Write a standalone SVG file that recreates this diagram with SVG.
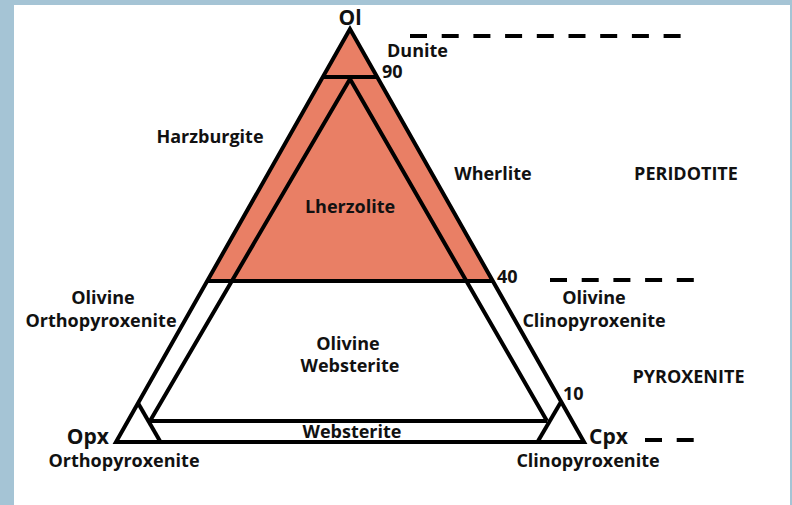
<svg xmlns="http://www.w3.org/2000/svg" width="792" height="505" viewBox="0 0 792 505">
  <style>
    .ln { fill: none; stroke: #000; stroke-width: 4; stroke-linejoin: miter; stroke-linecap: butt; }
    .dash { fill: none; stroke: #000; stroke-width: 4; stroke-dasharray: 17 14.7; }
    .t { font-family: "Open Sans", "Noto Sans", "Liberation Sans", sans-serif; font-weight: 700; font-size: 18px; fill: #111; }
    .big { font-size: 21px; }
    .c { text-anchor: middle; }
    .e { text-anchor: end; }
    .frame { fill: #a5c4d5; }
  </style>
  <rect width="792" height="505" fill="#fff"/>
  <g id="frame">
    <rect class="frame" x="0" y="0" width="14" height="505"/>
    <rect class="frame" x="0" y="0" width="792" height="5"/>
    <rect class="frame" x="790" y="0" width="2" height="505"/>
  </g>
  <g id="peridotite-field">
    <polygon points="350,29 207.2,281 492.8,281" fill="#e97f65"/>
  </g>
  <g id="connectors">
    <polygon class="ln" points="350,29 116,442 584,442"/>
    <line class="ln" x1="322.8" y1="77" x2="377.2" y2="77"/>
    <line class="ln" x1="207.2" y1="281" x2="492.8" y2="281"/>
    <polyline class="ln" points="150,421 350,79 547,421"/>
    <line class="ln" x1="150" y1="421" x2="547" y2="421"/>
    <line class="ln" x1="138" y1="403" x2="160.5" y2="442"/>
    <line class="ln" x1="561.5" y1="401" x2="537.5" y2="442"/>
    <line class="dash" x1="410" y1="36" x2="681" y2="36"/>
    <line class="dash" x1="550" y1="280" x2="694" y2="280"/>
    <line class="dash" x1="645" y1="440" x2="694" y2="440"/>
  </g>
  <g id="apex-ol"><text class="t big c" x="350" y="25">Ol</text></g>
  <g id="dunite"><text class="t c" x="417.5" y="57">Dunite</text></g>
  <g id="mark-90"><text class="t" x="382" y="78">90</text></g>
  <g id="harzburgite"><text class="t c" x="210" y="143">Harzburgite</text></g>
  <g id="wherlite"><text class="t c" x="493" y="180">Wherlite</text></g>
  <g id="peridotite"><text class="t c" x="686" y="180">PERIDOTITE</text></g>
  <g id="lherzolite"><text class="t c" x="350" y="213">Lherzolite</text></g>
  <g id="mark-40"><text class="t" x="497" y="283">40</text></g>
  <g id="olivine-orthopyroxenite">
    <text class="t c" x="103" y="304">Olivine</text>
    <text class="t c" x="101" y="327">Orthopyroxenite</text>
  </g>
  <g id="olivine-clinopyroxenite">
    <text class="t c" x="594" y="304">Olivine</text>
    <text class="t c" x="594" y="327">Clinopyroxenite</text>
  </g>
  <g id="olivine-websterite">
    <text class="t c" x="348" y="350">Olivine</text>
    <text class="t c" x="350" y="372">Websterite</text>
  </g>
  <g id="pyroxenite"><text class="t c" x="688.5" y="383">PYROXENITE</text></g>
  <g id="mark-10"><text class="t" x="563" y="400">10</text></g>
  <g id="websterite"><text class="t c" x="352" y="438">Websterite</text></g>
  <g id="opx"><text class="t big e" x="109" y="444">Opx</text></g>
  <g id="cpx"><text class="t big" x="589" y="444">Cpx</text></g>
  <g id="orthopyroxenite"><text class="t c" x="124" y="467">Orthopyroxenite</text></g>
  <g id="clinopyroxenite"><text class="t c" x="588" y="467">Clinopyroxenite</text></g>
</svg>
